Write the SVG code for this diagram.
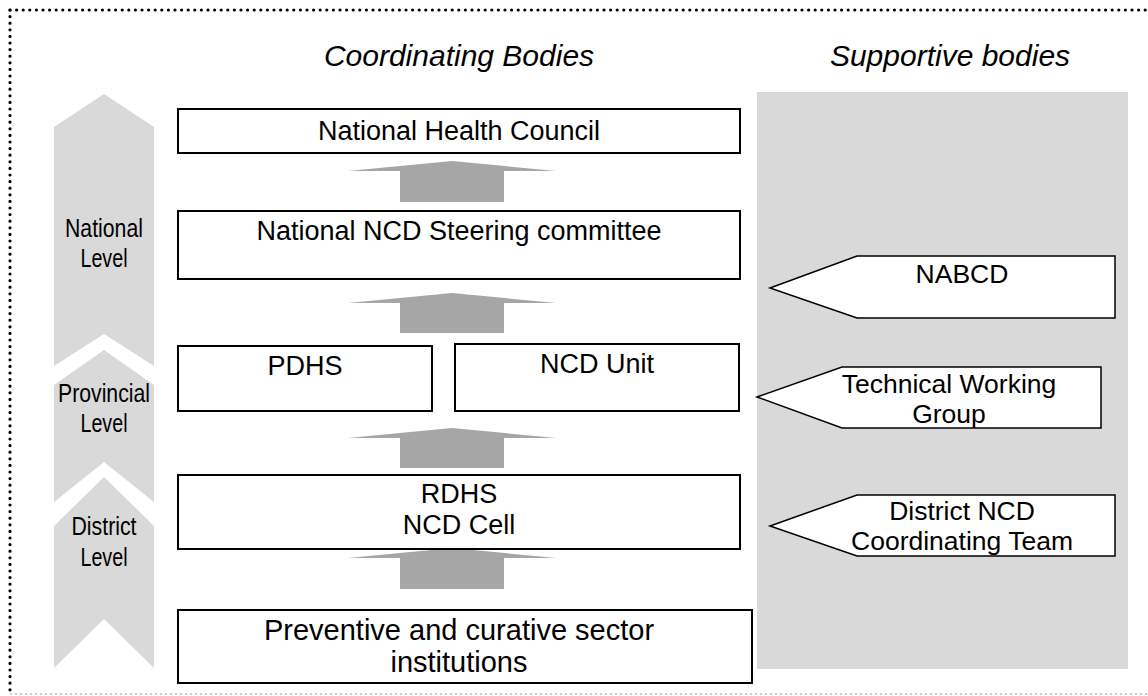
<svg xmlns="http://www.w3.org/2000/svg" width="1148" height="696" viewBox="0 0 1148 696">
<style>
  .t { font-family: "Liberation Sans", Arial, sans-serif; fill: #000; }
  .box { fill: #fff; stroke: #000; stroke-width: 2; }
  .pent { fill: #fff; stroke: #000; stroke-width: 1.5; }
  .chev { fill: #d9d9d9; }
  .up { fill: #a6a6a6; }
  .hdr { font-size: 30px; font-style: italic; text-anchor: middle; }
  .m27 { font-size: 27px; text-anchor: middle; }
  .m26 { font-size: 26.5px; text-anchor: middle; }
  .lv { font-size: 26px; text-anchor: middle; }
  .dots { stroke: #000; stroke-width: 3.2; stroke-linecap: round; stroke-dasharray: 0 6.6; fill: none; }
</style>
<defs>
  <clipPath id="clipTWG"><polygon points="757,397 842,367 1101,367 1101,428 842,428"/></clipPath>
  <clipPath id="clipDNT"><polygon points="770,526 857,495 1115,495 1115,556 857,556"/></clipPath>
</defs>
<rect width="1148" height="696" fill="#fff"/>
<g id="border">
  <line class="dots" x1="10" y1="10" x2="1148" y2="10"/>
  <line class="dots" x1="10" y1="10" x2="10" y2="693"/>
  <line x1="10" y1="694" x2="1148" y2="694" stroke="#9a9a9a" stroke-width="1" stroke-dasharray="2 3"/>
</g>
<g id="headers">
  <text class="t hdr" x="459" y="66">Coordinating Bodies</text>
  <text class="t hdr" x="950" y="66">Supportive bodies</text>
</g>
<g id="supportive-panel">
  <rect x="757" y="92" width="371" height="577" fill="#d9d9d9"/>
</g>
<g id="level-national">
  <polygon class="chev" points="54,127 104,94 154,127 154,366 104,334 54,366"/>
  <text class="t lv" x="104" y="237" textLength="78" lengthAdjust="spacingAndGlyphs">National</text>
  <text class="t lv" x="104" y="267" textLength="47" lengthAdjust="spacingAndGlyphs">Level</text>
</g>
<g id="level-provincial">
  <polygon class="chev" points="54,385 104,350 154,385 154,502 104,462 54,502"/>
  <text class="t lv" x="104" y="402" textLength="92" lengthAdjust="spacingAndGlyphs">Provincial</text>
  <text class="t lv" x="104" y="432" textLength="47" lengthAdjust="spacingAndGlyphs">Level</text>
</g>
<g id="level-district">
  <polygon class="chev" points="54,526 104,477 154,526 154,668 104,619 54,668"/>
  <text class="t lv" x="104" y="535" textLength="65" lengthAdjust="spacingAndGlyphs">District</text>
  <text class="t lv" x="104" y="566" textLength="47" lengthAdjust="spacingAndGlyphs">Level</text>
</g>
<g id="connectors">
  <polygon class="up" points="348,171 452,161 556,171 504,171 504,202 400,202 400,171"/>
  <polygon class="up" points="348,303 452,293 556,303 504,303 504,333 400,333 400,303"/>
  <polygon class="up" points="348,438 452,428 556,438 504,438 504,468 400,468 400,438"/>
  <polygon class="up" points="348,558 452,548 556,558 504,558 504,589 400,589 400,558"/>
</g>
<g id="national-health-council">
  <rect class="box" x="178" y="109" width="562" height="44"/>
  <text class="t m27" x="459" y="140">National Health Council</text>
</g>
<g id="ncd-steering-committee">
  <rect class="box" x="178" y="211" width="562" height="68"/>
  <text class="t m27" x="459" y="240">National NCD Steering committee</text>
</g>
<g id="pdhs">
  <rect class="box" x="178" y="346" width="254" height="65"/>
  <text class="t m27" x="305" y="375">PDHS</text>
</g>
<g id="ncd-unit">
  <rect class="box" x="455" y="344" width="284" height="67"/>
  <text class="t m27" x="597" y="373">NCD Unit</text>
</g>
<g id="rdhs">
  <rect class="box" x="178" y="475" width="562" height="74"/>
  <text class="t m27" x="459" y="503">RDHS</text>
  <text class="t m27" x="459" y="534">NCD Cell</text>
</g>
<g id="preventive">
  <rect class="box" x="178" y="610" width="574" height="73"/>
  <text class="t m27" x="459" y="640" style="font-size:29px">Preventive and curative sector</text>
  <text class="t m27" x="459" y="672" style="font-size:29px">institutions</text>
</g>
<g id="nabcd">
  <polygon class="pent" points="770,288 857,256 1115,256 1115,318 857,318"/>
  <text class="t m26" x="962" y="283">NABCD</text>
</g>
<g id="technical-working-group">
  <polygon class="pent" points="757,397 842,367 1101,367 1101,428 842,428"/>
  <g clip-path="url(#clipTWG)">
    <text class="t m26" x="949" y="393">Technical Working</text>
    <text class="t m26" x="949" y="423">Group</text>
  </g>
</g>
<g id="district-ncd-team">
  <polygon class="pent" points="770,526 857,495 1115,495 1115,556 857,556"/>
  <g clip-path="url(#clipDNT)">
    <text class="t m26" x="962" y="520">District NCD</text>
    <text class="t m26" x="962" y="550">Coordinating Team</text>
  </g>
</g>
</svg>
